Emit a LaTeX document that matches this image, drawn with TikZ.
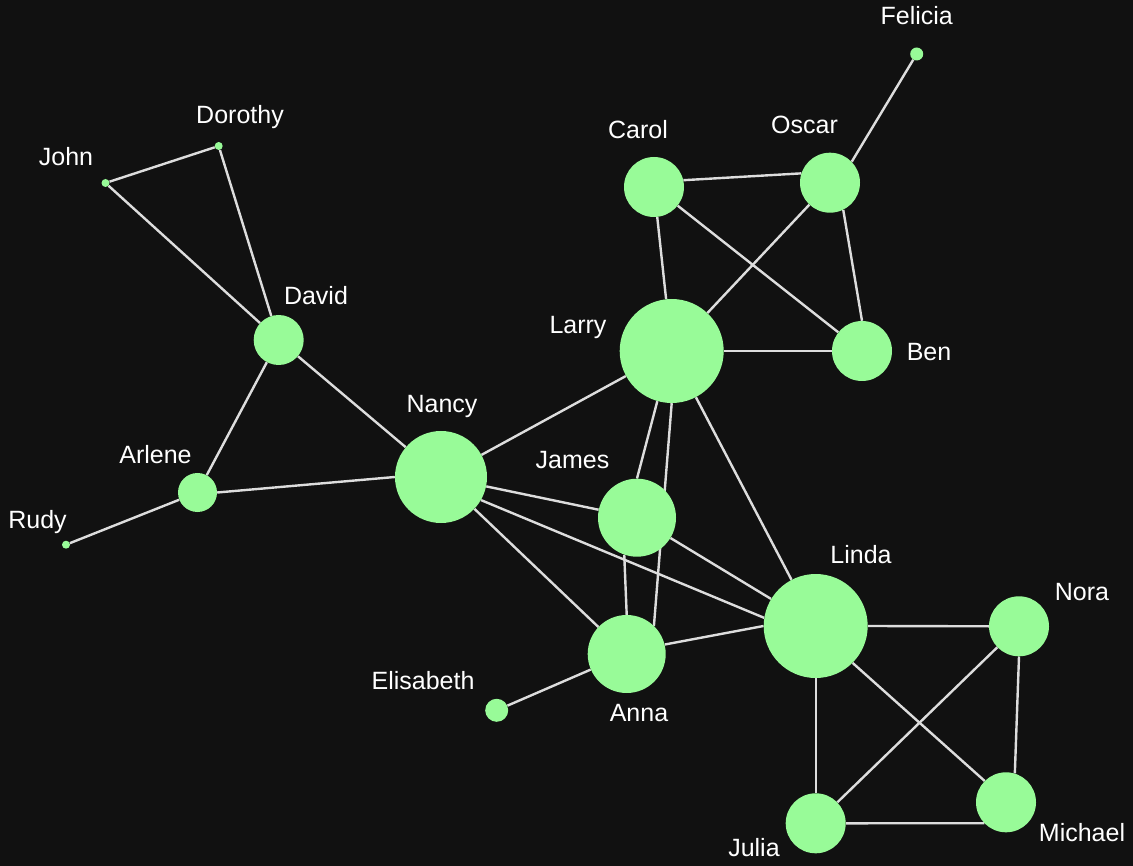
\documentclass[tikz,border=0pt]{standalone}
\usepackage{fontspec}
\setmainfont{Liberation Sans}
\definecolor{bg}{HTML}{111111}
\definecolor{nodegreen}{HTML}{98FB98}
\definecolor{edgecol}{HTML}{DDDDDD}
\pgfdeclarelayer{bglayer}
\pgfdeclarelayer{edgelayer}
\pgfsetlayers{bglayer,edgelayer,main}
\begin{document}
\begin{tikzpicture}[x=1pt,y=-1pt,
  vert/.style={circle,fill=nodegreen,inner sep=0pt,minimum size=#1},
  lbl/.style={text=white,anchor=base,font=\fontsize{25}{25}\selectfont,inner sep=0pt},
  edge/.style={draw=edgecol,line width=2.4pt}]
\begin{pgfonlayer}{bglayer}
\fill[bg] (0,0) rectangle (1133,866);
\end{pgfonlayer}
\useasboundingbox (0,0) rectangle (1133,866);
% nodes
\node[vert=13pt] (felicia) at (916.7,54) {};
\node[vert=8pt] (dorothy) at (218.7,146) {};
\node[vert=8pt] (john) at (105.5,183) {};
\node[vert=60pt] (carol) at (654,187) {};
\node[vert=60pt] (oscar) at (830,182.7) {};
\node[vert=50pt] (david) at (278.7,340) {};
\node[vert=104pt] (larry) at (671.7,351) {};
\node[vert=60pt] (ben) at (862,351) {};
\node[vert=92pt] (nancy) at (441,477) {};
\node[vert=39pt] (arlene) at (197.5,492.5) {};
\node[vert=8pt] (rudy) at (66,544.7) {};
\node[vert=78pt] (james) at (637,517.7) {};
\node[vert=104pt] (linda) at (815.7,626) {};
\node[vert=60pt] (nora) at (1019,626.3) {};
\node[vert=78pt] (anna) at (626.7,654) {};
\node[vert=23pt] (elisabeth) at (496.7,710.3) {};
\node[vert=60pt] (michael) at (1006,802.3) {};
\node[vert=60pt] (julia) at (815.7,823.3) {};
% edges
\begin{pgfonlayer}{edgelayer}
\path[edge] (felicia) -- (oscar.44);
\path[edge] (dorothy) -- (john);
\path[edge] (dorothy) -- (david);
\path[edge] (john) -- (david);
\path[edge] (david) -- (arlene);
\path[edge] (david) -- (nancy);
\path[edge] (arlene) -- (rudy);
\path[edge] (arlene.east) -- (nancy.west);
\path[edge] (nancy) -- (larry);
\path[edge] (nancy) -- (james);
\path[edge] (nancy.-30) -- (linda.171);
\path[edge] (nancy) -- (anna);
\path[edge] (carol.13) -- (oscar.162);
\path[edge] (carol) -- (larry);
\path[edge] (carol) -- (ben);
\path[edge] (oscar) -- (larry);
\path[edge] (oscar.296) -- (ben.north);
\path[edge] (larry.east) -- (ben.west);
\path[edge] (larry.254) -- (james.north);
\path[edge] (larry.south) -- (anna.46);
\path[edge] (larry) -- (linda);
\path[edge] (james.251) -- (anna.north);
\path[edge] (james) -- (linda);
\path[edge] (anna.14) -- (linda.west);
\path[edge] (anna) -- (elisabeth);
\path[edge] (linda.east) -- (nora.west);
\path[edge] (linda.south) -- (julia.north);
\path[edge] (linda.-45) -- (michael.135);
\path[edge] (nora) -- (julia);
\path[edge] (nora.south) -- (michael.73);
\path[edge] (julia.east) -- (michael.224);
\end{pgfonlayer}
% labels
\node[lbl] (lfelicia) at (916.7,25) {Felicia};
\node[lbl] (ldorothy) at (240,123.3) {Dorothy};
\node[lbl] (ljohn) at (66,166) {John};
\node[lbl] (lcarol) at (638,138.3) {Carol};
\node[lbl] (loscar) at (804.5,133.3) {Oscar};
\node[lbl] (ldavid) at (316,305) {David};
\node[lbl] (llarry) at (578,333.3) {Larry};
\node[lbl] (lben) at (929,361) {Ben};
\node[lbl] (lnancy) at (442,412.7) {Nancy};
\node[lbl] (larlene) at (155.5,464) {Arlene};
\node[lbl] (lrudy) at (37.5,528.3) {Rudy};
\node[lbl] (ljames) at (572.5,468.3) {James};
\node[lbl] (llinda) at (861,563.3) {Linda};
\node[lbl] (lnora) at (1082,600) {Nora};
\node[lbl] (lanna) at (639,721) {Anna};
\node[lbl] (lelisabeth) at (423,689.3) {Elisabeth};
\node[lbl] (lmichael) at (1082,841.7) {Michael};
\node[lbl] (ljulia) at (754,856.7) {Julia};
\end{tikzpicture}
\end{document}
